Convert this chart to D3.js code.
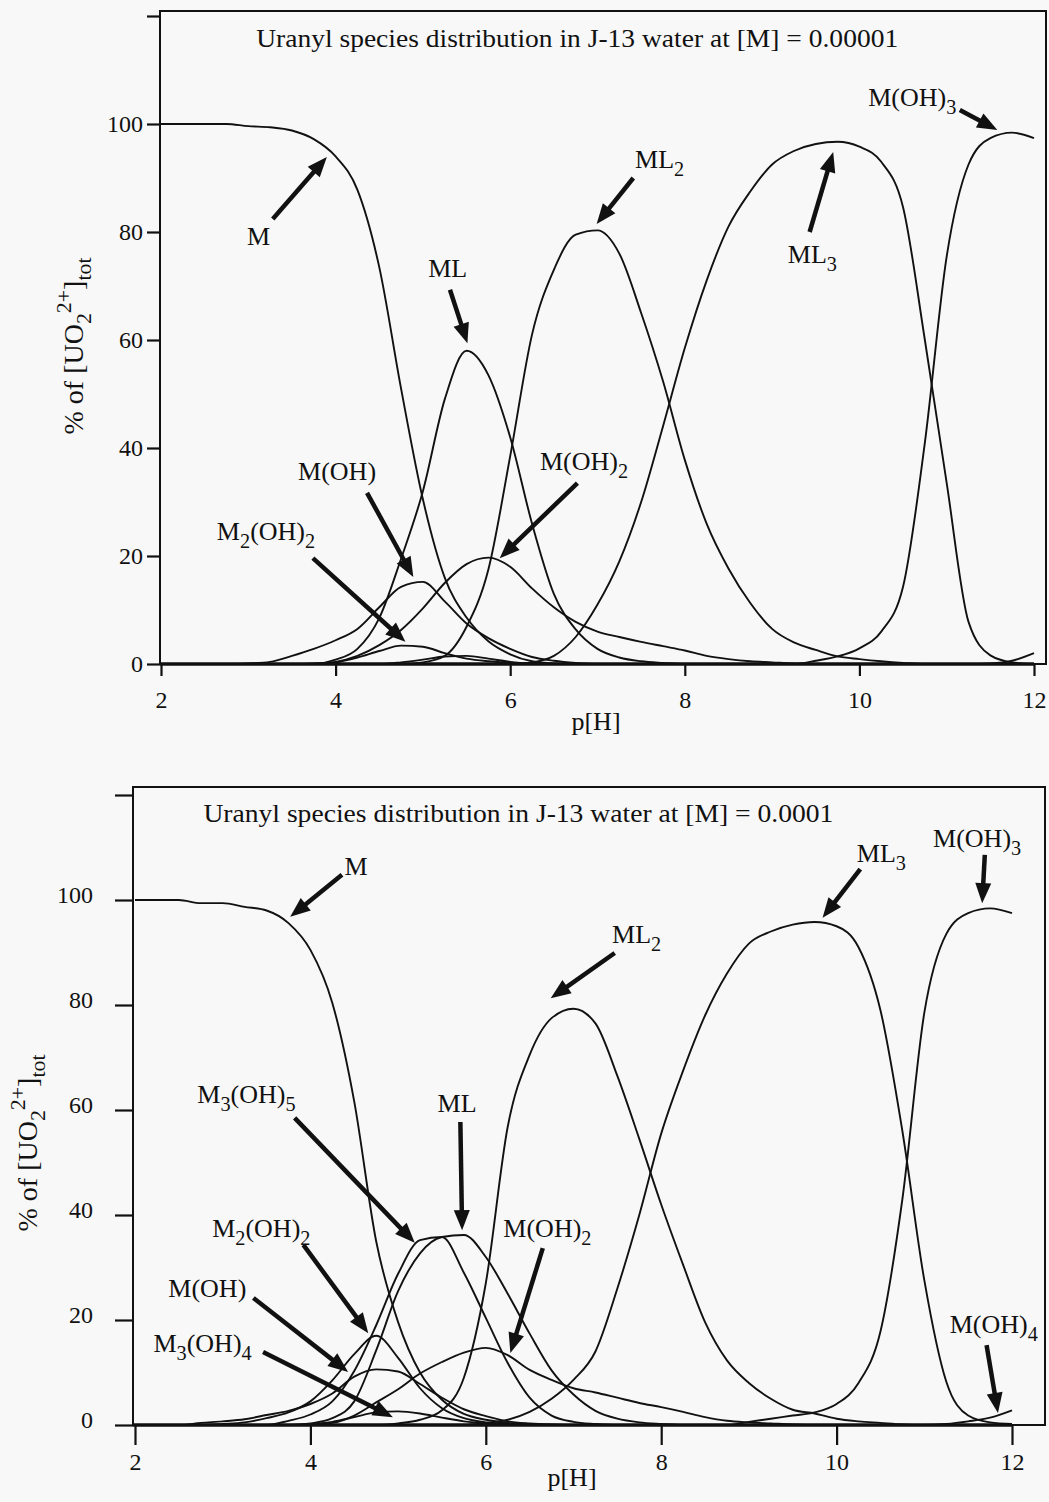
<!DOCTYPE html>
<html>
<head>
<meta charset="utf-8">
<script src="https://cdn.jsdelivr.net/npm/d3@7"></script>
<style>
  body { margin: 0; background: #f8f8f8; }
  svg { display: block; }
  text { font-family: "Liberation Serif", "Times New Roman", serif; fill: #111; }
</style>
</head>
<body>
<div id="chart"></div>
<script>
// pH grid shared by every species curve
const pH = [2, 2.25, 2.5, 2.75, 3, 3.25, 3.5, 3.75, 4, 4.25,
            4.5, 4.75, 5, 5.25, 5.5, 5.75, 6, 6.25, 6.5, 6.75,
            7, 7.25, 7.5, 7.75, 8, 8.25, 8.5, 8.75, 9, 9.25,
            9.5, 9.75, 10, 10.25, 10.5, 10.75, 11, 11.25, 11.5, 11.75, 12];

const xTicks = [2, 4, 6, 8, 10, 12];
const yTicks = [0, 20, 40, 60, 80, 100, 120];

// ---- [M] = 0.00001 ----
const mTop     = [100,100,100,100,99.6,99.4,98.8,97.2,94,87.8, 73.5,51,30.5,16,8.6,4.2,1.8,0.5,0.1,0, 0,0,0,0,0,0,0,0,0,0, 0,0,0,0,0,0,0,0,0,0,0];
const mlTop    = [0,0,0,0,0,0,0,0,0.8,2.8, 8.5,19.5,32,49,58,53.5,42,26,13,6.4, 2.8,1.2,0.5,0.2,0,0,0,0,0,0, 0,0,0,0,0,0,0,0,0,0,0];
const ml2Top   = [0,0,0,0,0,0,0,0,0,0, 0,0,0.3,1.5,6.9,17.5,38.5,61,73,79.5, 80.3,76,65,52.4,37.8,26,17.7,11.3,6.5,4, 2.6,1.4,0.9,0.5,0.2,0,0,0,0,0,0];
const ml3Top   = [0,0,0,0,0,0,0,0,0,0, 0,0,0,0,0,0,0,0.3,1.5,5, 11,19,30,44,58.5,71,81,87.5,92.5,95, 96.3,96.7,95.8,93,84.6,60,33.5,7.8,1.6,0.3,0];
const mOH3Top  = [0,0,0,0,0,0,0,0,0,0, 0,0,0,0,0,0,0,0,0,0, 0,0,0,0,0,0,0,0,0,0, 0.6,1.4,2.9,6,14.3,41,75.5,92.5,97.4,98.4,97.4];
const mOH4Top  = [0,0,0,0,0,0,0,0,0,0, 0,0,0,0,0,0,0,0,0,0, 0,0,0,0,0,0,0,0,0,0, 0,0,0,0,0,0,0,0,0.1,0.6,2];
const mOHTop   = [0,0,0,0,0.1,0.4,1.5,2.8,4.4,6.5, 10.5,14.3,15.2,11.6,7.5,4.8,2.8,1.3,0.6,0.2, 0,0,0,0,0,0,0,0,0,0, 0,0,0,0,0,0,0,0,0,0,0];
const mOH2Top  = [0,0,0,0,0,0,0,0.1,0.4,1.5, 3.5,6.3,10.3,15,18.5,19.7,18,14,10.5,7.8, 6,5,4.1,3.3,2.5,1.5,0.9,0.5,0.3,0.1, 0,0,0,0,0,0,0,0,0,0,0];
const m2OH2Top = [0,0,0,0,0,0,0,0,0.3,1.2, 2.4,3.4,3.2,2,1,0.5,0.2,0,0,0, 0,0,0,0,0,0,0,0,0,0, 0,0,0,0,0,0,0,0,0,0,0];
const m3OH5Top = [0,0,0,0,0,0,0,0,0,0, 0,0.3,0.8,1.4,1.5,1,0.4,0.1,0,0, 0,0,0,0,0,0,0,0,0,0, 0,0,0,0,0,0,0,0,0,0,0];

// ---- [M] = 0.0001 ----
const mBot     = [100,100,100,99.4,99.4,98.7,98,95.6,90.5,80.4, 61.6,35,19.6,10,4.8,2.1,1,0.4,0.1,0, 0,0,0,0,0,0,0,0,0,0, 0,0,0,0,0,0,0,0,0,0,0];
const mlBot    = [0,0,0,0,0,0,0,0,0.3,1.3, 4.5,14.2,25.5,32.7,35.8,36.2,32,25,17.4,10.4, 5.8,2.7,1.2,0.5,0.2,0,0,0,0,0, 0,0,0,0,0,0,0,0,0,0,0];
const m3OH5Bot = [0,0,0,0,0,0,0,0.8,2,4.5, 10.3,19,28.8,35.2,35.8,29,20.4,11.8,5.2,1.8, 0.6,0.2,0,0,0,0,0,0,0,0, 0,0,0,0,0,0,0,0,0,0,0];
const ml2Bot   = [0,0,0,0,0,0,0,0,0,0, 0,0,0.3,1,2.8,9,27,56.8,70.5,77.5, 79.3,76.5,66.5,54.5,42,30.5,19.6,12.3,8,5, 2.9,2.2,1.2,0.7,0.4,0.1,0,0,0,0,0];
const ml3Bot   = [0,0,0,0,0,0,0,0,0,0, 0,0,0,0,0,0,0.4,1,2.5,5, 8.6,14,26,40,55.5,67.5,78,86,91.7,94, 95.3,95.8,95,91,79,56,27.6,8.3,1.8,0.5,0.2];
const mOH3Bot  = [0,0,0,0,0,0,0,0,0,0, 0,0,0,0,0,0,0,0,0,0, 0,0,0,0,0,0,0,0,0.6,1.2, 1.8,2.4,4,8,17.8,43,78.5,93.5,97.5,98.4,97.5];
const mOH4Bot  = [0,0,0,0,0,0,0,0,0,0, 0,0,0,0,0,0,0,0,0,0, 0,0,0,0,0,0,0,0,0,0, 0,0,0,0,0,0,0,0.2,0.7,1.4,2.8];
const mOH2Bot  = [0,0,0,0,0,0,0,0,0.1,0.4, 1.8,4.3,6.8,9.8,12,13.8,14.7,13.3,10.5,8.6, 7,6.2,5.2,4.2,3.4,2.5,1.5,0.8,0.5,0.3, 0.1,0,0,0,0,0,0,0,0,0,0];
const m2OH2Bot = [0,0,0,0,0.2,0.5,1.3,2.4,4.5,8.5, 13.5,17,12.8,7,3.2,1.3,0.5,0.2,0,0, 0,0,0,0,0,0,0,0,0,0, 0,0,0,0,0,0,0,0,0,0,0];
const mOHBot   = [0,0,0,0.4,0.7,1.1,1.9,2.7,4,6, 9.2,10.6,10.2,7.8,5.2,3,1.7,0.7,0.3,0.1, 0,0,0,0,0,0,0,0,0,0, 0,0,0,0,0,0,0,0,0,0,0];
const m3OH4Bot = [0,0,0,0,0,0,0,0,0.2,0.6, 1.5,2.4,2.6,2.2,1.4,0.7,0.3,0.1,0,0, 0,0,0,0,0,0,0,0,0,0, 0,0,0,0,0,0,0,0,0,0,0];

// labels: text, position (pH, %) ; arrows: from (pH,%) to tip (pH,%)
const topLabels = [
  ["M", 2.985, 77.6], ["ML", 5.06, 71.7], ["ML_{2}", 7.43, 91.9], ["ML_{3}", 9.18, 74.3],
  ["M(OH)_{3}", 10.10, 103.3], ["M(OH)", 3.57, 34.1], ["M_{2}(OH)_{2}", 2.64, 23.0], ["M(OH)_{2}", 6.34, 35.9]
];
const topArrows = [
  [3.28, 82.4, 3.90, 93.9], [5.31, 69.3, 5.51, 59.4], [7.41, 90.0, 6.99, 81.5], [9.43, 80.0, 9.70, 94.8],
  [11.15, 102.6, 11.58, 98.9], [4.36, 31.7, 4.89, 16.1], [3.74, 19.6, 4.80, 4.1], [6.77, 33.5, 5.88, 19.6]
];
const botLabels = [
  ["M", 4.39, 104.8], ["ML_{3}", 10.23, 107.2], ["M(OH)_{3}", 11.10, 110.1], ["ML_{2}", 7.44, 91.8],
  ["M_{3}(OH)_{5}", 2.71, 61.3], ["ML", 5.45, 59.6], ["M_{2}(OH)_{2}", 2.88, 35.8], ["M(OH)", 2.38, 24.4],
  ["M_{3}(OH)_{4}", 2.21, 13.9], ["M(OH)_{2}", 6.20, 35.8], ["M(OH)_{4}", 11.29, 17.5]
];
const botArrows = [
  [4.36, 104.8, 3.77, 96.8], [10.27, 105.9, 9.84, 96.6], [11.69, 108.6, 11.66, 99.4], [7.47, 89.9, 6.74, 81.3],
  [3.82, 58.5, 5.19, 34.7], [5.71, 57.7, 5.73, 37.1], [3.92, 34.3, 4.66, 17.5], [3.35, 24.2, 4.43, 10.1],
  [3.46, 13.9, 4.94, 1.5], [6.65, 33.7, 6.28, 13.7], [11.71, 15.2, 11.84, 2.3]
];

const panels = [
  {
    title: "Uranyl species distribution in J-13 water at [M] = 0.00001", titlePos: [3.09, 114.3], titleLen: 642,
    series: [mTop, mlTop, ml2Top, ml3Top, mOH3Top, mOH4Top, mOHTop, mOH2Top, m2OH2Top, m3OH5Top],
    labels: topLabels, arrows: topArrows,
    xr: [161, 1034], yr: [664, 16], frame: [160, 11, 1046, 664],
    yTick: 13, yPad: 4, yShift: 0, xTick: 12, xPad: 15,
    yLab: [83, 346], xLab: [596, 730]
  },
  {
    title: "Uranyl species distribution in J-13 water at [M] = 0.0001", titlePos: [2.78, 114.9], titleLen: 630,
    series: [mBot, mlBot, m3OH5Bot, ml2Bot, ml3Bot, mOH3Bot, mOH4Bot, mOH2Bot, m2OH2Bot, mOHBot, m3OH4Bot],
    labels: botLabels, arrows: botArrows,
    xr: [135, 1012], yr: [1425, 795], frame: [133, 787, 1045, 1425],
    yTick: 18, yPad: 22, yShift: -5, xTick: 20, xPad: 8,
    yLab: [37, 1143], xLab: [572, 1486]
  }
];

const svg = d3.select("#chart").append("svg")
  .attr("width", 1049).attr("height", 1502);
svg.append("rect").attr("width", 1049).attr("height", 1502).attr("fill", "#f8f8f8");

// text with _{sub} and ^{sup} parts
function rich(t, str, fs) {
  const re = /(_|\^)\{([^}]*)\}|([^_^]+)/g;
  let m, shift = 0;
  while ((m = re.exec(str)) !== null) {
    const ts = t.append("tspan");
    if (m[3] !== undefined) {
      ts.text(m[3]).attr("font-size", fs).attr("dy", -shift);
      shift = 0;
    } else if (m[1] === "_") {
      const off = fs * 0.3;
      ts.text(m[2]).attr("font-size", fs * 0.78).attr("dy", off - shift);
      shift = off;
    } else {
      const off = -fs * 0.42;
      ts.text(m[2]).attr("font-size", fs * 0.78).attr("dy", off - shift);
      shift = off;
    }
  }
}

function arrow(g, x1, y1, x2, y2) {
  const dx = x2 - x1, dy = y2 - y1, len = Math.hypot(dx, dy);
  const ux = dx / len, uy = dy / len, L = 20, W = 8;
  g.append("line")
    .attr("x1", x1).attr("y1", y1)
    .attr("x2", x2 - ux * (L - 2)).attr("y2", y2 - uy * (L - 2))
    .attr("stroke", "#111").attr("stroke-width", 4.5);
  const bx = x2 - ux * L, by = y2 - uy * L;
  g.append("polygon")
    .attr("points", [[x2, y2], [bx - uy * W, by + ux * W], [bx + uy * W, by - ux * W]].map(p => p.join(",")).join(" "))
    .attr("fill", "#111");
}

panels.forEach(P => {
  const x = d3.scaleLinear().domain([2, 12]).range(P.xr);
  const y = d3.scaleLinear().domain([0, 120]).range(P.yr);
  const g = svg.append("g");
  const [fl, ft, fr, fb] = P.frame;

  // curves
  const line = d3.line()
    .x((d, i) => x(pH[i]))
    .y(d => y(d))
    .curve(d3.curveMonotoneX);
  P.series.forEach(s => {
    g.append("path").attr("d", line(s))
      .attr("fill", "none").attr("stroke", "#111")
      .attr("stroke-width", 1.9).attr("stroke-linejoin", "round");
  });

  // frame
  g.append("rect")
    .attr("x", fl).attr("y", ft).attr("width", fr - fl).attr("height", fb - ft)
    .attr("fill", "none").attr("stroke", "#111").attr("stroke-width", 2);
  g.append("line")
    .attr("x1", fl).attr("x2", x(12)).attr("y1", y(0)).attr("y2", y(0))
    .attr("stroke", "#111").attr("stroke-width", 3.5);

  // axes
  const ya = g.append("g").attr("transform", `translate(${fl},0)`)
    .call(d3.axisLeft(y).tickValues(yTicks).tickSize(P.yTick).tickPadding(P.yPad)
      .tickFormat(d => d === 120 ? "" : d));
  const xa = g.append("g").attr("transform", `translate(0,${y(0)})`)
    .call(d3.axisBottom(x).tickValues(xTicks).tickSize(P.xTick).tickPadding(P.xPad));
  [ya, xa].forEach(a => {
    a.select(".domain").remove();
    a.selectAll("line").attr("stroke", "#111").attr("stroke-width", 2.2);
    a.selectAll("text").attr("font-size", 24)
      .style("font-family", "'Liberation Serif', 'Times New Roman', serif").attr("fill", "#111");
  });
  ya.selectAll("text").attr("y", P.yShift);

  // title
  g.append("text")
    .attr("x", x(P.titlePos[0])).attr("y", y(P.titlePos[1]))
    .attr("font-size", 26).attr("textLength", P.titleLen).attr("lengthAdjust", "spacingAndGlyphs")
    .text(P.title);

  // axis titles
  const yl = g.append("text")
    .attr("transform", `translate(${P.yLab[0]},${P.yLab[1]}) rotate(-90)`)
    .attr("text-anchor", "middle");
  rich(yl, "% of [UO_{2}^{2+}]_{tot}", 28);
  g.append("text").attr("x", P.xLab[0]).attr("y", P.xLab[1])
    .attr("text-anchor", "middle").attr("font-size", 26).text("p[H]");

  // species labels and arrows
  P.labels.forEach(l => {
    const t = g.append("text").attr("x", x(l[1])).attr("y", y(l[2]));
    rich(t, l[0], 26);
  });
  P.arrows.forEach(a => arrow(g, x(a[0]), y(a[1]), x(a[2]), y(a[3])));
});
</script>
</body>
</html>
